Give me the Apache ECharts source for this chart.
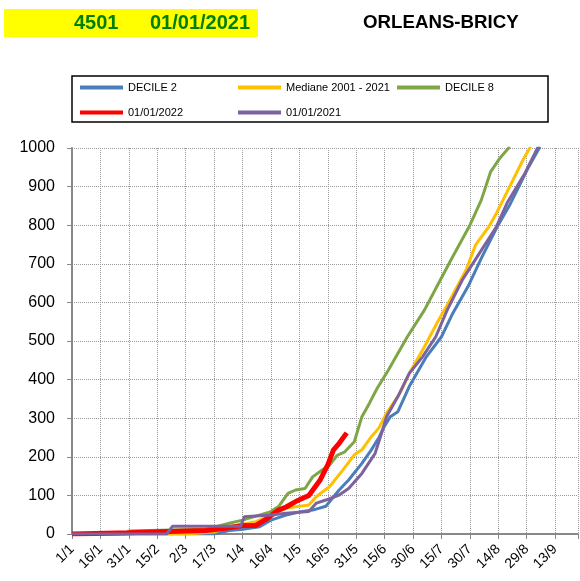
<!DOCTYPE html>
<html>
<head>
<meta charset="utf-8">
<script src="https://cdn.jsdelivr.net/npm/echarts@6/dist/echarts.min.js"></script>
<style>
html, body { margin: 0; padding: 0; background: #fff; }
#chart { width: 580px; height: 581px; }
</style>
</head>
<body>
<div id="chart"></div>
<script>
// day index (0 = 1/1) and cumulative value
var tickLabels = ['1/1','16/1','31/1','15/2','2/3','17/3','1/4','16/4','1/5','16/5','31/5','15/6','30/6','15/7','30/7','14/8','29/8','13/9'];

var decile2 = [[0,0],[75,0],[83,9],[90,12],[99,19],[105,36],[113,49],[121,58],[127,62],[134,72],[141,114],[146,140],[153,183],[158,218],[162,250],[165,280],[168,304],[172,317],[178,382],[187,459],[195,511],[201,572],[209,641],[216,714],[224,792],[231,852],[241,951],[247,1003]];
var mediane = [[0,0],[60,0],[75,5],[83,19],[97,32],[105,49],[113,67],[125,75],[129,97],[136,123],[143,166],[149,205],[153,218],[158,252],[162,275],[166,313],[173,364],[178,416],[186,485],[193,550],[199,602],[208,684],[213,749],[220,796],[224,831],[231,900],[238,969],[242,1003]];
var decile8 = [[0,0],[28,0],[30,8],[70,12],[76,19],[83,28],[90,36],[105,58],[109,71],[114,105],[118,114],[123,118],[127,148],[132,166],[136,179],[140,204],[144,213],[149,239],[153,304],[157,339],[161,377],[167,425],[177,511],[186,580],[193,645],[200,710],[210,800],[216,865],[221,939],[226,975],[231,1003]];
var year2022 = [[0,0],[30,3],[46,6],[71,9],[81,15],[90,22],[97,22],[99,28],[103,40],[109,62],[113,70],[118,84],[125,100],[131,140],[135,179],[138,218],[141,235],[145,262]];
var year2021 = [[0,0],[50,0],[53,20],[89,20],[91,45],[105,49],[113,54],[125,58],[129,80],[134,88],[141,101],[146,118],[153,157],[160,209],[163,255],[166,304],[172,356],[178,416],[185,459],[192,511],[198,580],[206,658],[215,727],[224,796],[230,861],[239,934],[246,1003]];

var font = 'Arial, "Liberation Sans", sans-serif';
var chart = echarts.init(document.getElementById('chart'));

function line(name, data, color, width) {
	return {
		name: name,
		type: 'line',
		data: data,
		showSymbol: false,
		symbol: 'none',
		animation: false,
		lineStyle: { color: color, width: width },
		itemStyle: { color: color }
	};
}

// one legend per entry so the columns line up like the original
function legendItem(name, left, top) {
	return {
		data: [name],
		left: left, top: top,
		padding: 0,
		itemWidth: 43, itemHeight: 4, icon: 'rect',
		textStyle: { fontFamily: font, fontSize: 11, color: '#000' }
	};
}

var option = {
	backgroundColor: '#fff',
	animation: false,
	graphic: [
		{ type: 'rect', shape: { x: 4, y: 9, width: 254, height: 28 }, style: { fill: '#ffff00' } },
		{ type: 'text', x: 74, y: 23, style: { text: '4501', font: 'bold 20px ' + font, fill: '#008000', verticalAlign: 'middle' } },
		{ type: 'text', x: 150, y: 23, style: { text: '01/01/2021', font: 'bold 20px ' + font, fill: '#008000', verticalAlign: 'middle' } },
		{ type: 'text', x: 363, y: 23, style: { text: 'ORLEANS-BRICY', font: 'bold 18.7px ' + font, fill: '#000', verticalAlign: 'middle' } },
		{ type: 'rect', shape: { x: 72, y: 76, width: 476, height: 46 }, style: { fill: 'none', stroke: '#000', lineWidth: 1.5 } }
	],
	legend: [
		legendItem('DECILE 2', 80, 82),
		legendItem('Mediane 2001 - 2021', 238, 82),
		legendItem('DECILE 8', 397, 82),
		legendItem('01/01/2022', 80, 107),
		legendItem('01/01/2021', 238, 107)
	],
	grid: { left: 72, top: 148, right: 0, bottom: 47 },
	xAxis: {
		type: 'value',
		min: 0, max: 267, interval: 15,
		axisLine: { lineStyle: { color: '#888', width: 2 } },
		axisTick: { show: true, length: 5, lineStyle: { color: '#888' } },
		splitLine: { show: true, lineStyle: { color: '#999', type: 'dotted', width: 1 } },
		axisLabel: {
			rotate: 45, fontFamily: font, fontSize: 14, color: '#000', margin: 13,
			formatter: function (v) { return v % 15 === 0 && tickLabels[v / 15] ? tickLabels[v / 15] : ''; }
		}
	},
	yAxis: {
		type: 'value',
		min: 0, max: 1000, interval: 100,
		axisLine: { show: true, lineStyle: { color: '#888', width: 2 } },
		axisTick: { show: true, length: 5, lineStyle: { color: '#888' } },
		splitLine: { show: true, lineStyle: { color: '#999', type: 'dotted', width: 1 } },
		axisLabel: { fontFamily: font, fontSize: 16, color: '#000', margin: 17, formatter: function (v) { return String(v); } }
	},
	series: [
		line('DECILE 2', decile2, '#4a7ebb', 3),
		line('Mediane 2001 - 2021', mediane, '#ffc000', 3),
		line('DECILE 8', decile8, '#7fa646', 3),
		line('01/01/2022', year2022, '#ff0000', 5),
		line('01/01/2021', year2021, '#7d62a0', 3)
	]
};
chart.setOption(option);
</script>
</body>
</html>
